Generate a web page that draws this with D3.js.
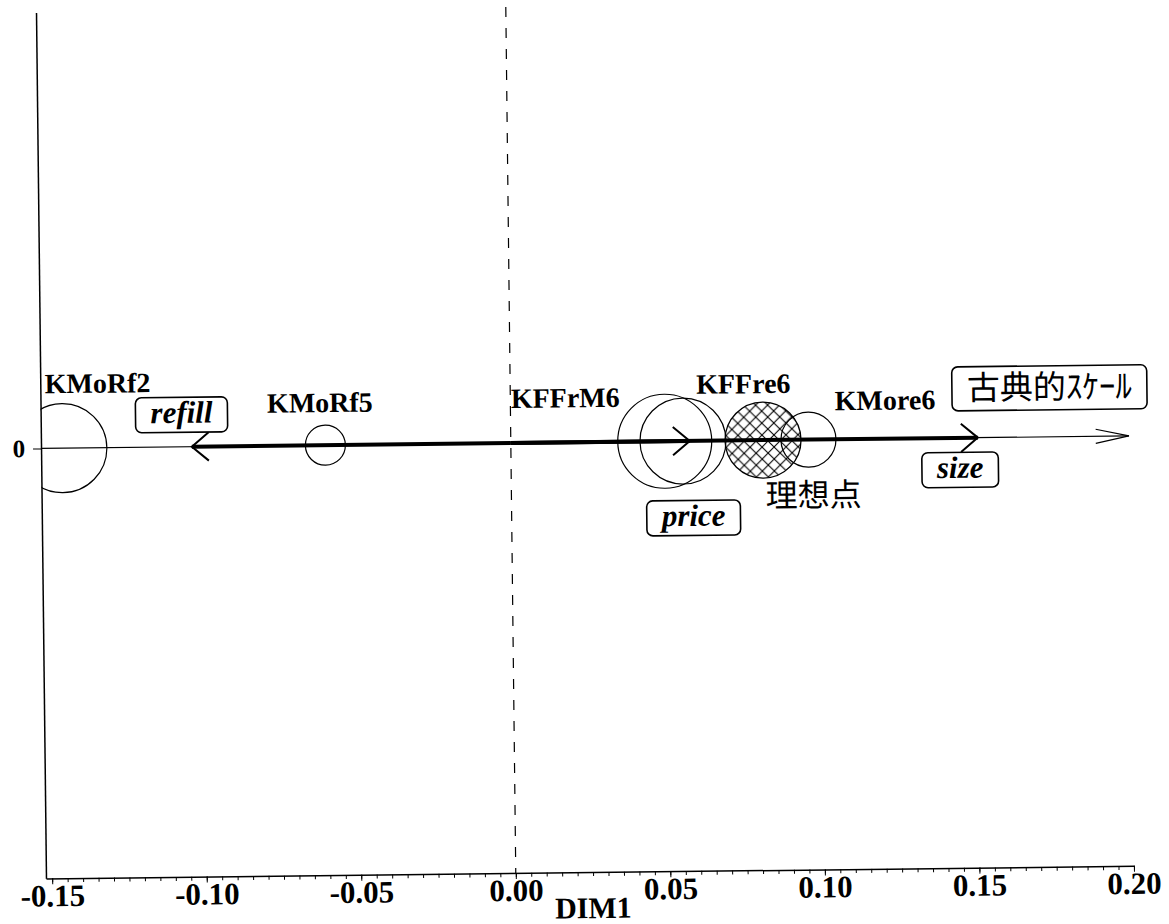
<!DOCTYPE html>
<html>
<head>
<meta charset="utf-8">
<script src="https://cdn.jsdelivr.net/npm/d3@7"></script>
<style>
body { margin: 0; background: #fff; }
</style>
</head>
<body>
<div id="chart"></div>
<script>
// products on DIM1, circle size = preference weight
var products = ["KMoRf2", "KMoRf5", "KFFrM6", "KFFre6", "KMore6"];
var productDim1 = [-0.1451, -0.0600, 0.0498, 0.0557, 0.0963];
var productDim2 = [0, 0, 0, 0, 0];
var productSize = [0.89, 0.40, 0.94, 0.86, 0.55];

// ideal point
var idealLabel = "理想点";
var idealDim1 = [0.0816];
var idealDim2 = [0];
var idealSize = [0.76];

// attribute vectors (from origin)
var attributes = ["refill", "price", "size"];
var attributeDim1 = [-0.1032, 0.0579, 0.1511];

// classical scale axis
var scaleLabel = "古典的ｽｹｰﾙ";
var scaleEnd = [0.20];

var xTicks = [-0.15, -0.10, -0.05, 0.00, 0.05, 0.10, 0.15, 0.20];
var yTicks = [0];
var xTitle = "DIM1";

var width = 1169, height = 924;
var serif = "'Liberation Serif', 'Times New Roman', serif";
var cjk = "'Noto Sans CJK JP', sans-serif";

var x = d3.scaleLinear().domain([-0.152, 0.20]).range([41, 1129]);
var y = d3.scaleLinear().domain([-0.2, 0.2028]).range([873, 7]);
var r = d3.scaleLinear().domain([0, 1]).range([0, 50]);

var svg = d3.select("#chart").append("svg")
    .attr("width", width)
    .attr("height", height)
    .style("background", "#fff");

var defs = svg.append("defs");
defs.append("clipPath").attr("id", "plotClip")
  .append("rect")
    .attr("x", x.range()[0]).attr("y", y.range()[1])
    .attr("width", x.range()[1] - x.range()[0])
    .attr("height", y.range()[0] - y.range()[1]);

defs.append("pattern").attr("id", "hatch")
    .attr("patternUnits", "userSpaceOnUse")
    .attr("width", 12).attr("height", 12)
  .append("path")
    .attr("d", "M0,0L12,12M12,0L0,12M-1,11L1,13M11,-1L13,1")
    .attr("stroke", "#000")
    .attr("stroke-width", 1.1);

// the scanned plot is tilted a little
var g = svg.append("g")
    .attr("transform", "rotate(-0.66," + x(0) + "," + y(0) + ")");

// axes
var minorTicks = d3.range(-150, 201, 5).map(function(d) { return d / 1000; });

g.append("g")
    .attr("transform", "translate(0," + y.range()[0] + ")")
    .call(d3.axisBottom(x).tickValues(minorTicks).tickSize(4).tickSizeOuter(0).tickFormat(""))
    .call(function(a) { a.select(".domain").attr("stroke-width", 1.5); });

var xAxis = g.append("g")
    .attr("transform", "translate(0," + y.range()[0] + ")")
    .call(d3.axisBottom(x).tickValues(xTicks).tickSize(6).tickSizeOuter(0)
      .tickFormat(function(d) { return d.toFixed(2); }));
xAxis.select(".domain").remove();
xAxis.selectAll("text")
    .attr("y", 28).attr("dy", 0)
    .style("font-family", serif)
    .style("font-weight", "bold")
    .style("font-size", "31px")
    .attr("fill", "#000");

var yAxis = g.append("g")
    .attr("transform", "translate(" + x.range()[0] + ",0)")
    .call(d3.axisLeft(y).tickValues(yTicks).tickSize(8).tickSizeOuter(0).tickPadding(8)
      .tickFormat(function(d) { return String(d); }));
yAxis.select(".domain").attr("stroke-width", 1.5);
yAxis.selectAll("text")
    .style("font-family", serif)
    .style("font-weight", "bold")
    .style("font-size", "25px")
    .attr("fill", "#000");

g.append("text")
    .attr("x", 588).attr("y", 919)
    .attr("text-anchor", "middle")
    .style("font-family", serif)
    .style("font-weight", "bold")
    .style("font-size", "30px")
    .text(xTitle);

// dashed reference line at DIM1 = 0
g.append("line")
    .attr("x1", x(0)).attr("x2", x(0))
    .attr("y1", y.range()[1]).attr("y2", y.range()[0])
    .attr("stroke", "#000")
    .attr("stroke-width", 1.2)
    .attr("stroke-dasharray", "10,11");

// circles
var plot = g.append("g").attr("clip-path", "url(#plotClip)");

plot.append("circle")
    .attr("cx", x(idealDim1[0])).attr("cy", y(idealDim2[0]))
    .attr("r", r(idealSize[0]))
    .attr("fill", "url(#hatch)")
    .attr("stroke", "#000").attr("stroke-width", 1.3);

plot.selectAll(".prod")
  .data(products)
  .enter().append("circle")
    .attr("class", "prod")
    .attr("cx", function(d, i) { return x(productDim1[i]); })
    .attr("cy", function(d, i) { return y(productDim2[i]); })
    .attr("r", function(d, i) { return r(productSize[i]); })
    .attr("fill", "none")
    .attr("stroke", "#000")
    .attr("stroke-width", 1.2);

// label placement relative to the circle centre
var labelOffset = {
  KMoRf2: [36, -55], KMoRf5: [-5, -33], KFFrM6: [-99, -35],
  KFFre6: [61, -47], KMore6: [77, -29]
};

g.selectAll(".plabel")
  .data(products)
  .enter().append("text")
    .attr("class", "plabel")
    .attr("x", function(d, i) { return x(productDim1[i]) + labelOffset[d][0]; })
    .attr("y", function(d, i) { return y(productDim2[i]) + labelOffset[d][1]; })
    .attr("text-anchor", "middle")
    .style("font-family", serif)
    .style("font-weight", "bold")
    .style("font-size", "28px")
    .text(function(d) { return d; });

g.append("text")
    .attr("x", x(idealDim1[0]) + 2)
    .attr("y", y(idealDim2[0]) + 67)
    .style("font-family", cjk)
    .style("font-size", "32px")
    .text(idealLabel);

// arrow head helper
function head(tx, ty, dir, len, ang, sw) {
  var a = ang * Math.PI / 180;
  var bx = tx - dir * len * Math.cos(a);
  g.append("path")
      .attr("d", "M" + bx + "," + (ty - len * Math.sin(a)) + "L" + tx + "," + ty +
                 "L" + bx + "," + (ty + len * Math.sin(a)))
      .attr("fill", "none")
      .attr("stroke", "#000")
      .attr("stroke-width", sw);
}

// classical scale axis (thin)
g.append("line")
    .attr("x1", x.range()[0]).attr("x2", x(scaleEnd[0]))
    .attr("y1", y(0)).attr("y2", y(0))
    .attr("stroke", "#000").attr("stroke-width", 1.1);
head(x(scaleEnd[0]), y(0), 1, 34, 12, 1.1);

// attribute vectors (thick)
attributes.forEach(function(d, i) {
  g.append("line")
      .attr("x1", x(0)).attr("x2", x(attributeDim1[i]))
      .attr("y1", y(0)).attr("y2", y(0))
      .attr("stroke", "#000").attr("stroke-width", 4);
  head(x(attributeDim1[i]), y(0), attributeDim1[i] < 0 ? -1 : 1, 22, 40, 2);
});

// rounded label boxes
function box(cx, cy, txt, font, size, italic, h, dy) {
  var t = g.append("text")
      .attr("x", cx).attr("y", cy + dy)
      .attr("text-anchor", "middle")
      .style("font-family", font)
      .style("font-size", size + "px")
      .style("font-weight", italic ? "bold" : "normal")
      .style("font-style", italic ? "italic" : "normal")
      .text(txt);
  var w = t.node().getComputedTextLength() + 30;
  g.insert("rect", function() { return t.node(); })
      .attr("x", cx - w / 2).attr("y", cy - h / 2)
      .attr("width", w).attr("height", h)
      .attr("rx", 6).attr("ry", 6)
      .attr("fill", "#fff")
      .attr("stroke", "#000")
      .attr("stroke-width", 1.6);
}

var boxOffset = { refill: [-10, -32], price: [3, 77], size: [-18, 32] };
attributes.forEach(function(d, i) {
  box(x(attributeDim1[i]) + boxOffset[d][0], y(0) + boxOffset[d][1], d, serif, 31, true, 35, 8);
});
box(x(scaleEnd[0]) - 79, y(0) - 49, scaleLabel, cjk, 33, false, 44, 11);
</script>
</body>
</html>
